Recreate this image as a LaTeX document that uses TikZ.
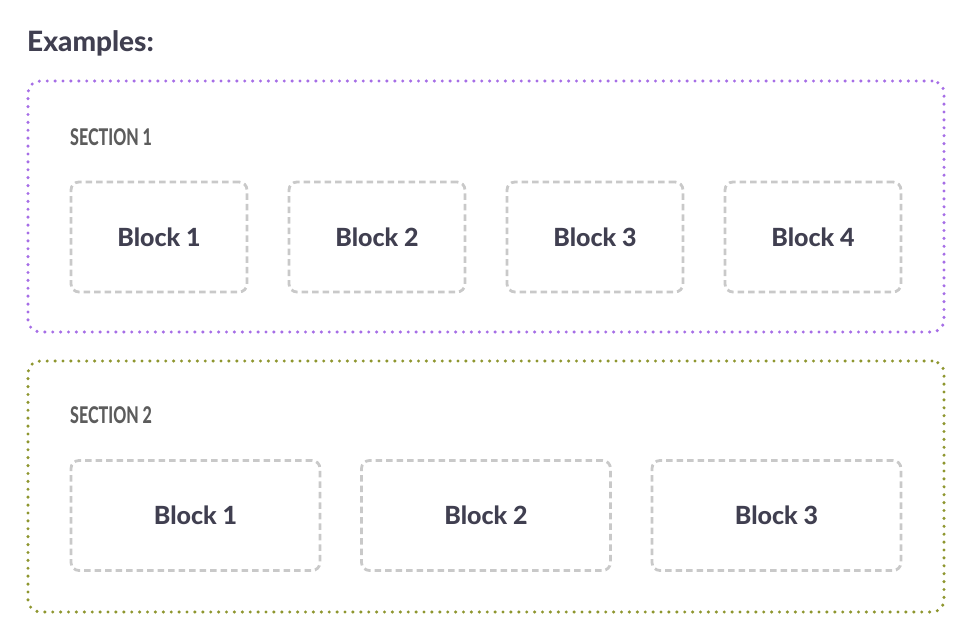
\documentclass[tikz,border=0pt]{standalone}
\usepackage{fontspec}
\setmainfont{Lato}[BoldFont={Lato Heavy}]
\newfontfamily\secfont{Lato}[BoldFont={Lato Heavy}, FakeStretch=0.70]

\definecolor{ink}{HTML}{403F50}
\definecolor{secgray}{HTML}{5C5C5C}
\definecolor{blockgray}{HTML}{C9C9C9}
\definecolor{purp}{HTML}{A66EE6}
\definecolor{olive}{HTML}{8E962F}

\tikzset{
  dotbox/.style={line width=3.4pt, dash pattern=on 0pt off 7.9pt, line cap=round,
    rounded corners=12pt, minimum width=916pt, minimum height=251pt, inner sep=0pt},
  blockbox/.style={draw=blockgray, line width=2.8pt, dash pattern=on 6.5pt off 4pt,
    rounded corners=8pt, minimum height=110pt, inner sep=0pt,
    font=\fontsize{25}{29}\selectfont\bfseries, text=ink},
  sectitle/.style={anchor=base west, inner sep=0pt, text=secgray,
    font=\secfont\fontsize{23}{27}\selectfont\bfseries},
}

\begin{document}
\begin{tikzpicture}[x=1pt, y=-1pt]
  \useasboundingbox (0,0) rectangle (972,634);

  % Heading
  \node[anchor=base west, inner sep=0pt, text=ink,
    font=\fontsize{28}{32}\selectfont\bfseries] (title) at (27,52) {Examples:};

  % Section 1
  \node[dotbox, draw=purp] (sec1) at (486,206.5) {};
  \node[sectitle] (sec1lbl) at (70,145) {SECTION 1};
  \foreach \i in {1,...,4} {
    \node[blockbox, minimum width=176pt] (a\i) at ({159+218*(\i-1)},237) {Block \i};
  }

  % Section 2
  \node[dotbox, draw=olive] (sec2) at (486,486.5) {};
  \node[sectitle] (sec2lbl) at (70,423) {SECTION 2};
  \foreach \i in {1,2,3} {
    \node[blockbox, minimum width=249pt] (b\i) at ({195.5+290.5*(\i-1)},515.5) {Block \i};
  }
\end{tikzpicture}
\end{document}
